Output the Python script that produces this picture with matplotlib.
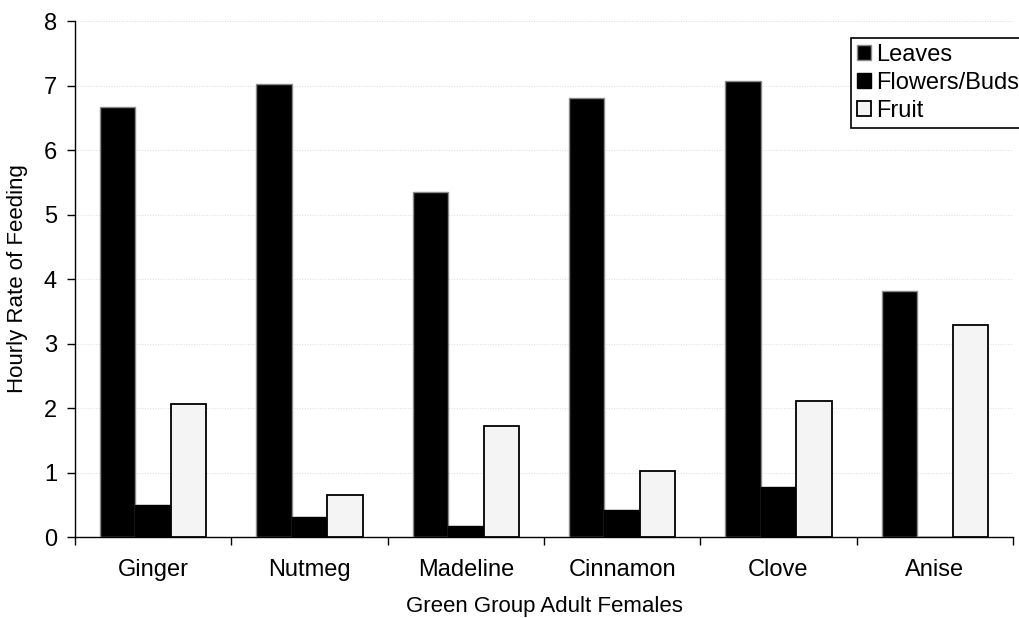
import numpy as np
import matplotlib.pyplot as plt

plt.rcParams['font.family'] = ['Liberation Sans', 'DejaVu Sans']

females = ['Ginger', 'Nutmeg', 'Madeline', 'Cinnamon', 'Clove', 'Anise']
leaves = [6.67, 7.02, 5.35, 6.80, 7.07, 3.82]
flowers_buds = [0.50, 0.31, 0.17, 0.42, 0.78, 0.0]
fruit = [2.06, 0.65, 1.72, 1.02, 2.11, 3.28]

fig = plt.figure(figsize=(10.19, 6.18), dpi=100)
ax = fig.add_axes([0.0736, 0.131, 0.9205, 0.835])

x = np.arange(len(females))
w = 0.227

ax.bar(x - w, leaves, w, color='black', edgecolor='#8a8a8a', linewidth=1.0,
       label='Leaves', zorder=3)
ax.bar(x, flowers_buds, w, color='black', edgecolor='black', linewidth=1.0,
       label='Flowers/Buds', zorder=3)
ax.bar(x + w, fruit, w, color='#f4f4f4', edgecolor='black', linewidth=1.3,
       label='Fruit', zorder=3)

ax.set_xlim(-0.5, len(females) - 0.5)
ax.set_ylim(0, 8)
ax.set_yticks(range(0, 9))

# names in the middle of each group, tick marks between groups
ax.set_xticks(x)
ax.set_xticklabels(females, fontsize=17)
ax.set_xticks(np.arange(-0.5, len(females)), minor=True)
ax.tick_params(axis='x', which='major', length=0, pad=16)
ax.tick_params(axis='x', which='minor', length=6, width=1, direction='out')
ax.tick_params(axis='y', length=6, width=1, labelsize=17, pad=7)

ax.grid(axis='y', color='#dddddd', linestyle=':', linewidth=0.7, zorder=0)

for s in ['top', 'right']:
    ax.spines[s].set_visible(False)
ax.spines['left'].set_linewidth(1.0)
ax.spines['bottom'].set_linewidth(1.0)

ax.set_xlabel('Green Group Adult Females', fontsize=16)
ax.xaxis.set_label_coords(0.5, -0.114)
ax.set_ylabel('Hourly Rate of Feeding', fontsize=16)
ax.yaxis.set_label_coords(-0.05, 0.5)

leg = fig.legend(loc='upper left', bbox_to_anchor=(0.835, 0.9385), fontsize=17,
                 frameon=True, fancybox=False, edgecolor='black', framealpha=1,
                 borderpad=0.25, handlelength=0.6, handleheight=0.6,
                 handletextpad=0.2, labelspacing=0.25, borderaxespad=0)
leg.get_frame().set_linewidth(1.2)

fig.savefig('out.png', dpi=100)
